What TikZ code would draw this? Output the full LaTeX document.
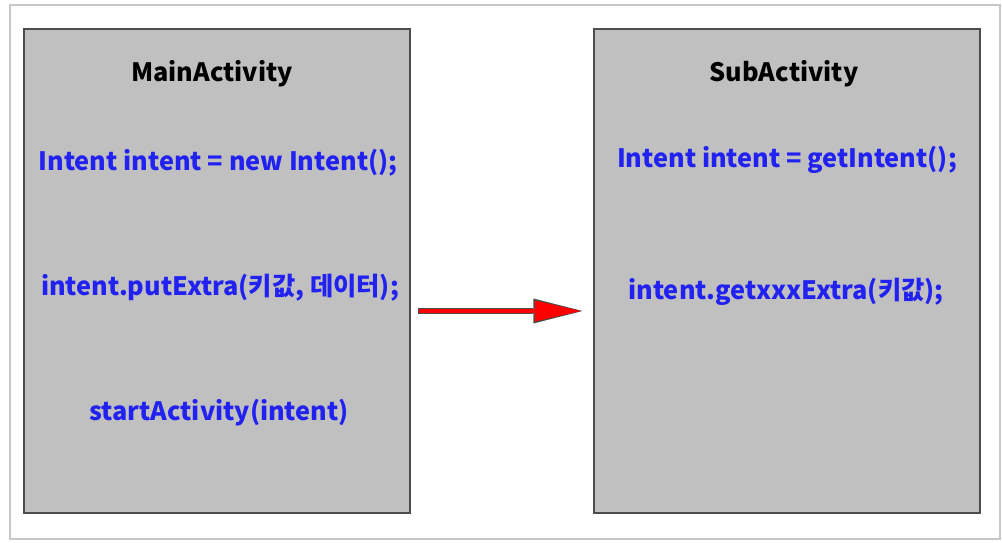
\documentclass[tikz,border=0pt]{standalone}
\usepackage{fontspec}
\setmainfont{Noto Sans CJK KR}
\usepackage{xcolor}
\usepackage{tikz}
\usetikzlibrary{arrows.meta}

\definecolor{boxgray}{HTML}{C0C0C0}
\definecolor{codeblue}{HTML}{2121F2}

\begin{document}
\begin{tikzpicture}[x=1pt, y=-1pt, node distance=570pt]
        % Define styles for the activity boxes and their code lines
        \tikzstyle{frame} = [draw=black!22, line width=2pt]
        \tikzstyle{activity} = [rectangle, draw=black!70, line width=1.2pt, fill=boxgray,
                                minimum width=386pt, minimum height=484pt, inner sep=0pt]
        \tikzstyle{title} = [font=\bfseries\fontsize{25.3}{30}\selectfont, text=black]
        \tikzstyle{code} = [font=\bfseries\fontsize{25.3}{30}\selectfont, text=codeblue]
        \tikzstyle{arrow} = [draw=red, line width=3.5pt, -{Triangle[length=46pt,width=21pt,line width=0pt]},
                             shorten <=8pt, shorten >=12.5pt,
                             preaction={draw=black!70, line width=5.5pt, -{Triangle[length=49pt,width=25pt,line width=0pt]},
                                        shorten <=7pt, shorten >=11pt}]

        \useasboundingbox (0,0) rectangle (1002,543);
        \draw [frame] (10,5) rectangle (1000,539);

        % The two activities side by side
        \node (mainactivity) [activity] at (217,271) {};
        \node (subactivity) [activity, right of=mainactivity] {};

        % Text of the main activity
        \node (maintitle) [title] at (212,74) {MainActivity};
        \node (newintent) [code] at (218,163) {Intent intent = new Intent();};
        \node (putextra) [code] at (220,288) {intent.putExtra(키값, 데이터);};
        \node (startact) [code] at (219,413) {startActivity(intent)};

        % Text of the sub activity
        \node (subtitle) [title] at (784,74) {SubActivity};
        \node (getintent) [code] at (787,160) {Intent intent = getIntent();};
        \node (getextra) [code] at (786,292) {intent.getxxxExtra(키값);};

        % Arrow
        \draw [arrow] ([yshift=-40pt]mainactivity.east) -- ([yshift=-40pt]subactivity.west);
    \end{tikzpicture}
\end{document}
